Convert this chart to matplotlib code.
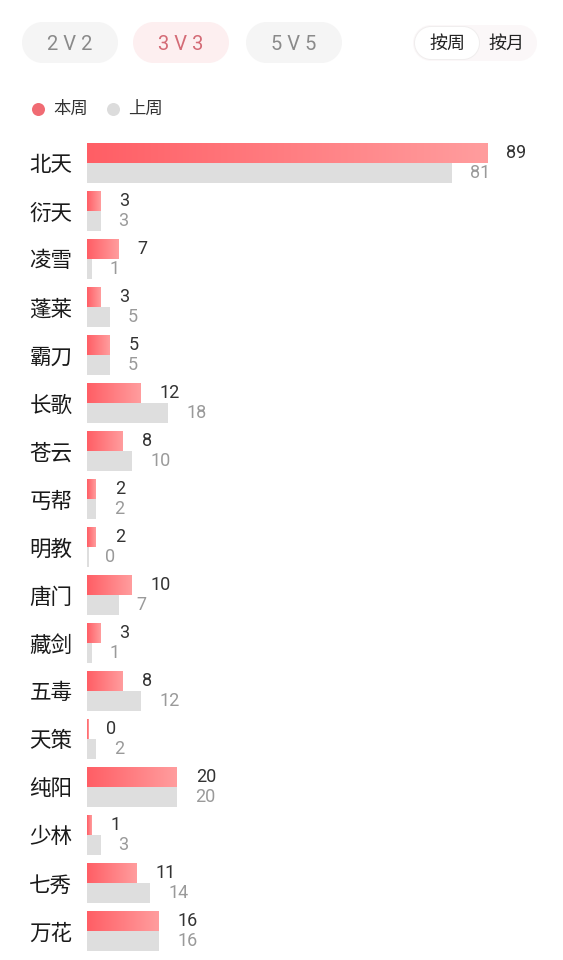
import matplotlib
matplotlib.use("Agg")
import matplotlib.pyplot as plt
import numpy as np
from matplotlib.patches import Circle, Rectangle
from matplotlib.colors import LinearSegmentedColormap

plt.rcParams['font.family'] = ['Noto Sans CJK SC', 'DejaVu Sans']
NUM_FONT = ['Roboto', 'DejaVu Sans']

categories = ["北天", "衍天", "凌雪", "蓬莱", "霸刀", "长歌", "苍云", "丐帮", "明教",
              "唐门", "藏剑", "五毒", "天策", "纯阳", "少林", "七秀", "万花"]
this_week = [89, 3, 7, 3, 5, 12, 8, 2, 2, 10, 3, 8, 0, 20, 1, 11, 16]
last_week = [81, 3, 1, 5, 5, 18, 10, 2, 0, 7, 1, 12, 2, 20, 3, 14, 16]
mode_tabs = ["2 V 2", "3 V 3", "5 V 5"]
period_tabs = ["按周", "按月"]
legend_labels = ["本周", "上周"]

W, H = 563, 960
fig = plt.figure(figsize=(W / 100, H / 100), dpi=100)
fig.patch.set_facecolor("white")

# ---------- header overlay in pixel coordinates ----------
hdr = fig.add_axes([0, 0, 1, 1])
hdr.set_xlim(0, W)
hdr.set_ylim(H, 0)
hdr.axis("off")


def pill(x0, y0, w, h, fc, z=1):
    r = h / 2
    hdr.add_patch(Rectangle((x0 + r, y0), w - 2 * r, h, fc=fc, ec="none", zorder=z))
    hdr.add_patch(Circle((x0 + r, y0 + r), r, fc=fc, ec="none", zorder=z))
    hdr.add_patch(Circle((x0 + w - r, y0 + r), r, fc=fc, ec="none", zorder=z))


pill_x = [22, 133, 246]
pill_w = 96
pill_fc = ["#f5f5f5", "#fdeff0", "#f5f5f5"]
pill_tc = ["#8a8a8a", "#d46b76", "#8a8a8a"]
for x0, lab, fc, tc in zip(pill_x, mode_tabs, pill_fc, pill_tc):
    pill(x0, 22, pill_w, 41, fc)
    hdr.text(x0 + pill_w / 2, 44, lab, ha="center", va="center", fontsize=14.5,
             color=tc, family=NUM_FONT, zorder=4)

# toggle
pill(413, 25, 124, 36, "#fbf7f8", z=1)
pill(414, 26, 66, 34, "#f0eeee", z=2)
pill(415, 27, 64, 32, "#ffffff", z=3)
hdr.text(447, 44, period_tabs[0], ha="center", va="center", fontsize=13, color="#222222", zorder=4)
hdr.text(506, 44, period_tabs[1], ha="center", va="center", fontsize=13, color="#222222", zorder=4)

# legend
hdr.add_patch(Circle((38.5, 109.5), 6.5, fc="#f06b73", ec="none"))
hdr.text(53, 109, legend_labels[0], ha="left", va="center", fontsize=12.5, color="#333333")
hdr.add_patch(Circle((113.5, 109.5), 6.5, fc="#dcdcdc", ec="none"))
hdr.text(128, 109, legend_labels[1], ha="left", va="center", fontsize=12.5, color="#333333")

# ---------- bar chart ----------
ax_left, ax_right = 87, 537
ax_top, ax_bot = 135, 955
ax = fig.add_axes([ax_left / W, 1 - ax_bot / H, (ax_right - ax_left) / W, (ax_bot - ax_top) / H])
ax.set_facecolor("none")
n = len(categories)
ypos = np.arange(n)
bh = 0.41

cmap = LinearSegmentedColormap.from_list("rg", ["#ff5e65", "#ff9d9e"])
grad = np.linspace(0, 1, 256).reshape(1, -1)

for i, (a, b) in enumerate(zip(this_week, last_week)):
    wa = a if a > 0 else 0.35
    ax.imshow(grad, cmap=cmap, aspect="auto", extent=(0, wa, i, i - bh),
              interpolation="bilinear", zorder=2)
    wb = b if b > 0 else 0.35
    ax.barh(i + bh / 2, wb, height=bh, color="#dedede", zorder=2)
    ax.annotate(str(a), (a, i - bh / 2), xytext=(13.5, 0), textcoords="offset points",
                ha="left", va="center", fontsize=13, color="#333333", family=NUM_FONT)
    ax.annotate(str(b), (b, i + bh / 2), xytext=(13, 0), textcoords="offset points",
                ha="left", va="center", fontsize=13, color="#9a9a9a", family=NUM_FONT)

ax.set_xlim(0, 100)
ax.set_ylim(16.5, -0.583)
ax.set_yticks(ypos)
ax.set_yticklabels(categories, fontsize=15.5, color="#1a1a1a", fontweight="medium")
ax.tick_params(axis="y", length=0, pad=10.5)
ax.set_xticks([])
for s in ax.spines.values():
    s.set_visible(False)

fig.savefig("out.png", dpi=100, facecolor="white")
